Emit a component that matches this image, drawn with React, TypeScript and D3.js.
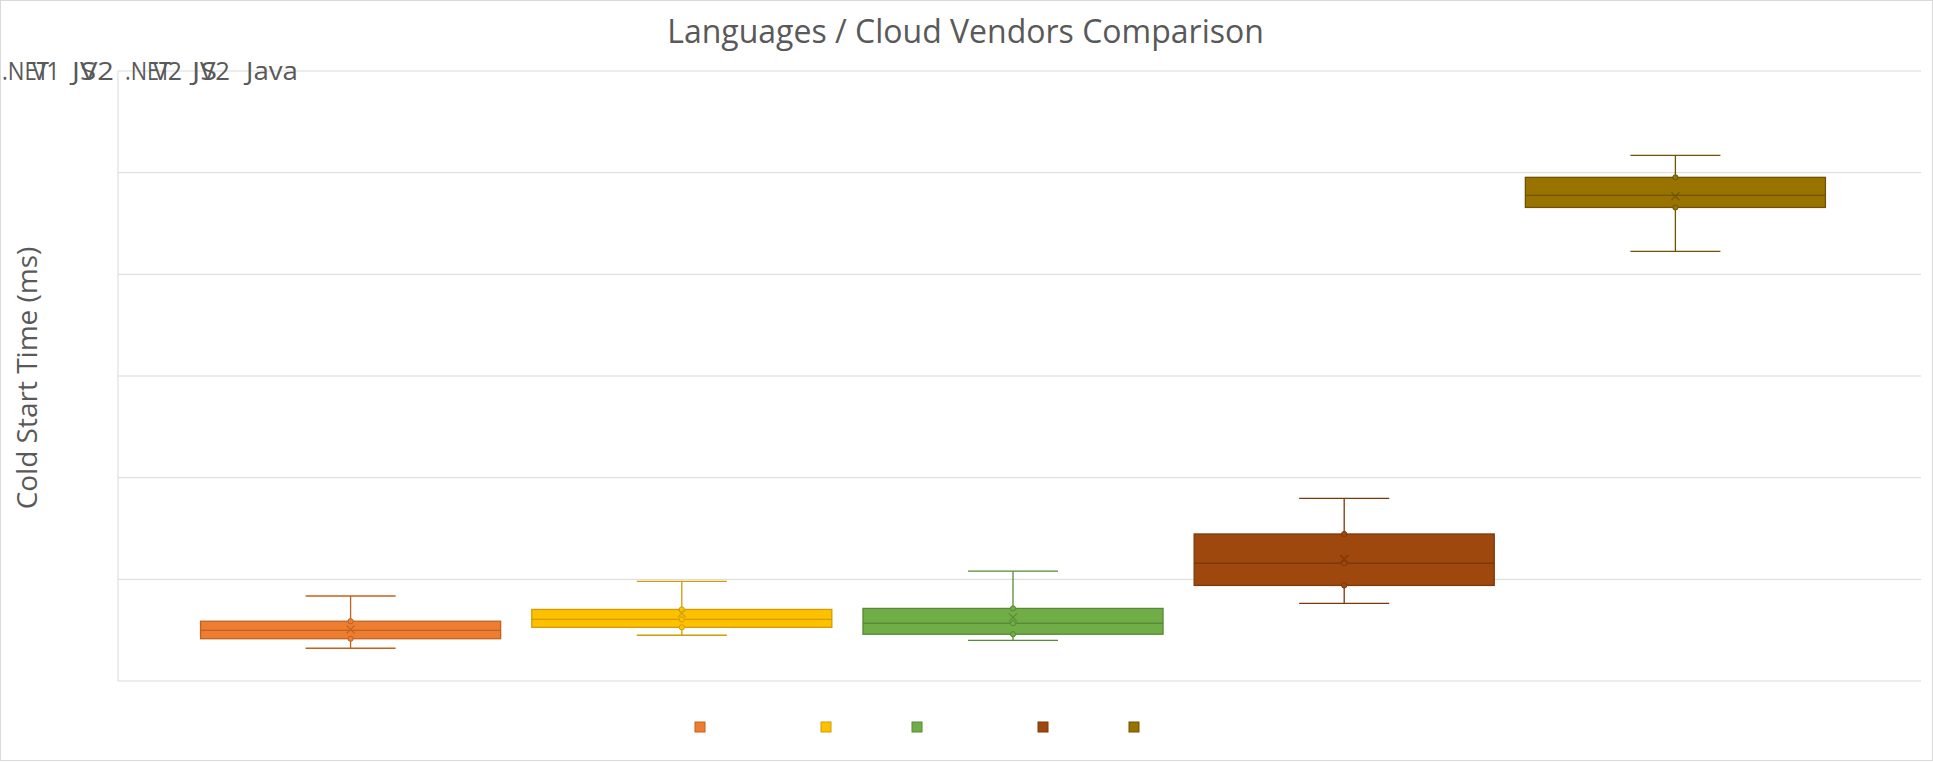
import React from "react";
import * as d3 from "d3";

// one box per series, all in a single category
const SERIES = [".NET V1", "JS V1", ".NET V2", "JS V2", "Java"];
const FILLS = ["#ED7D31", "#FFC000", "#70AD47", "#9E480E", "#997300"];
const STROKES = ["#C2621F", "#CF9E00", "#568A36", "#7B380B", "#6E5300"];

const WHISKER_HIGH = [418, 490, 540, 898, 2585];
const Q3 = [294, 352, 357, 723, 2477];
const MEDIAN = [249, 303, 284, 579, 2388];
const Q1 = [208, 264, 230, 470, 2329];
const WHISKER_LOW = [161, 225, 200, 382, 2113];
const MEANS = [253, 333, 313, 600, 2384];
const INNER_POINTS = [
	[294, 208],
	[352, 303, 264],
	[357, 284, 230],
	[723, 579, 470],
	[2477, 2329]
];

const Y_TICKS = [0, 500, 1000, 1500, 2000, 2500, 3000];

// the broken label row in the top-left corner: text, x, width
const STRAY_LABELS: [string, number, number][] = [
	[".NET", 2, 47],
	["V1", 32, 28],
	["JS", 72, 24],
	["V2", 80, 34],
	[".NET", 125, 46],
	["V2", 153, 29],
	["JS", 192, 25],
	["V2", 200, 30],
	["Java", 246, 52]
];

const WIDTH = 1933;
const HEIGHT = 762;
const PLOT = { left: 118, right: 1921, top: 71, bottom: 681 };
const FONT = "'Open Sans', 'Noto Sans', sans-serif";
const TEXT = "#595959";

export default function App() {
	const y = d3.scaleLinear().domain([0, 3000]).range([PLOT.bottom, PLOT.top]);
	const x = d3
		.scaleBand()
		.domain(SERIES)
		.range([PLOT.left + 67, PLOT.right - 80])
		.paddingInner(0.094)
		.paddingOuter(0.047);
	const bw = x.bandwidth();

	// legend entries get wider with longer labels
	const legendX: number[] = [];
	let lx = 695;
	SERIES.forEach((s) => {
		legendX.push(lx);
		lx += 3.5 + 17.5 * s.length;
	});

	return (
		<svg
			width={WIDTH}
			height={HEIGHT}
			style={{ position: "absolute", left: 0, top: 0, background: "#fff" }}
			fontFamily={FONT}>
			<rect x={0.5} y={0.5} width={WIDTH - 1} height={HEIGHT - 2} fill="#fff" stroke="#d9d9d9" />

			<text x={WIDTH / 2 - 1} y={43} textAnchor="middle" fontSize={32} fill={TEXT}>
				Languages / Cloud Vendors Comparison
			</text>

			{Y_TICKS.map((t) => (
				<line key={t} x1={PLOT.left} x2={PLOT.right} y1={y(t)} y2={y(t)} stroke="#d9d9d9" strokeWidth={1} />
			))}
			<line x1={PLOT.left} x2={PLOT.left} y1={PLOT.top} y2={PLOT.bottom} stroke="#d9d9d9" />

			<text
				transform={`translate(37, ${(PLOT.top + PLOT.bottom) / 2 + 2}) rotate(-90)`}
				textAnchor="middle"
				fontSize={28}
				fill={TEXT}>
				Cold Start Time (ms)
			</text>

			{STRAY_LABELS.map(([s, px, w], i) => (
				<text key={i} x={px} y={80} fontSize={25} fill={TEXT} textLength={w} lengthAdjust="spacingAndGlyphs">
					{s}
				</text>
			))}

			{SERIES.map((s, i) => {
				const x0 = x(s) as number;
				const cx = x0 + bw / 2;
				const cap = bw * 0.15;
				const stroke = STROKES[i];
				const my = y(MEANS[i]);
				return (
					<g key={s}>
						<line x1={cx} x2={cx} y1={y(WHISKER_HIGH[i])} y2={y(Q3[i])} stroke={stroke} strokeWidth={1.3} />
						<line x1={cx} x2={cx} y1={y(Q1[i])} y2={y(WHISKER_LOW[i])} stroke={stroke} strokeWidth={1.3} />
						<line x1={cx - cap} x2={cx + cap} y1={y(WHISKER_HIGH[i])} y2={y(WHISKER_HIGH[i])} stroke={stroke} strokeWidth={1.3} />
						<line x1={cx - cap} x2={cx + cap} y1={y(WHISKER_LOW[i])} y2={y(WHISKER_LOW[i])} stroke={stroke} strokeWidth={1.3} />
						<rect
							x={x0}
							y={y(Q3[i])}
							width={bw}
							height={y(Q1[i]) - y(Q3[i])}
							fill={FILLS[i]}
							stroke={stroke}
							strokeWidth={1.3}
						/>
						<line x1={x0} x2={x0 + bw} y1={y(MEDIAN[i])} y2={y(MEDIAN[i])} stroke={stroke} strokeWidth={1.3} />
						{INNER_POINTS[i].map((p, j) => (
							<circle key={j} cx={cx} cy={y(p)} r={2.6} fill={FILLS[i]} stroke={stroke} strokeWidth={1} />
						))}
						<path
							d={`M${cx - 4},${my - 4}L${cx + 4},${my + 4}M${cx - 4},${my + 4}L${cx + 4},${my - 4}`}
							stroke={stroke}
							strokeWidth={1.3}
							opacity={0.85}
						/>
					</g>
				);
			})}

			{SERIES.map((s, i) => (
				<rect
					key={s}
					x={legendX[i]}
					y={722}
					width={10}
					height={10}
					fill={FILLS[i]}
					stroke={STROKES[i]}
					strokeWidth={1}
				/>
			))}
		</svg>
	);
}
